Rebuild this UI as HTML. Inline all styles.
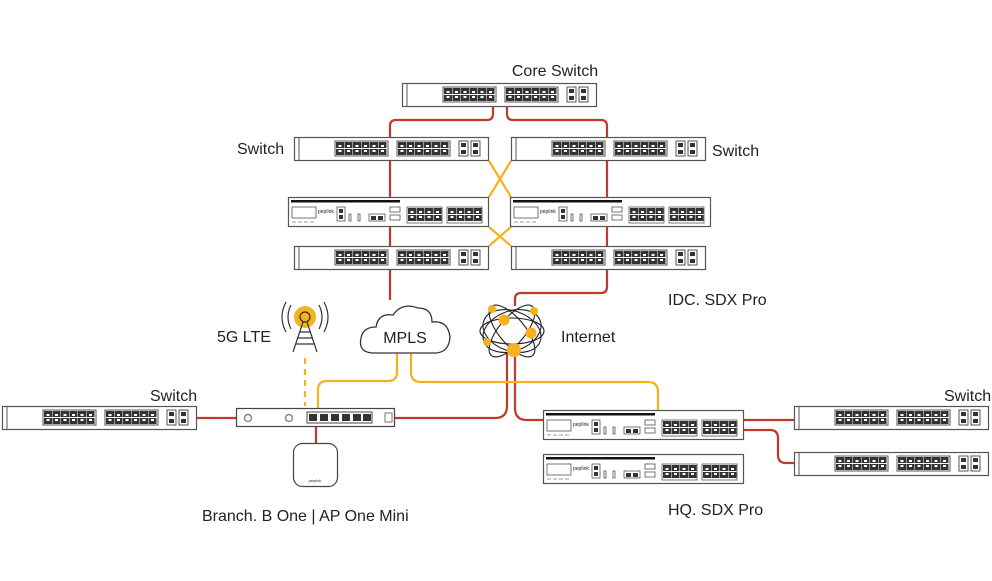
<!DOCTYPE html>
<html><head><meta charset="utf-8"><style>
html,body{margin:0;padding:0;background:#fff}
svg{display:block}
text{font-family:"Liberation Sans",sans-serif;fill:#222}
</style></head><body>
<svg width="992" height="581" viewBox="0 0 992 581" xmlns="http://www.w3.org/2000/svg">
<defs>
<g id="pg">
<rect x="0" y="0" width="8" height="6" fill="#333"/><rect x="0" y="7" width="8" height="6" fill="#333"/>
<rect x="2.5" y="3" width="3" height="2" fill="#fff"/><rect x="2.5" y="8" width="3" height="2" fill="#fff"/>
</g>
<g id="sw">
<rect x="0.5" y="0.5" width="194" height="23" fill="#fff" stroke="#555" stroke-width="1.2"/>
<line x1="5" y1="1" x2="5" y2="23" stroke="#555"/>
<rect x="41" y="4" width="53" height="15" fill="#fff" stroke="#555"/>
<use href="#pg" x="42" y="5"/><use href="#pg" x="50.5" y="5"/><use href="#pg" x="59" y="5"/><use href="#pg" x="67.5" y="5"/><use href="#pg" x="76" y="5"/><use href="#pg" x="84.5" y="5"/>
<rect x="103" y="4" width="53" height="15" fill="#fff" stroke="#555"/>
<use href="#pg" x="104" y="5"/><use href="#pg" x="112.5" y="5"/><use href="#pg" x="121" y="5"/><use href="#pg" x="129.5" y="5"/><use href="#pg" x="138" y="5"/><use href="#pg" x="146.5" y="5"/>
<rect x="165" y="4" width="9" height="15" fill="#fff" stroke="#555"/><rect x="167" y="6" width="5" height="4" fill="#333"/><rect x="167" y="13" width="5" height="4" fill="#333"/>
<rect x="177" y="4" width="9" height="15" fill="#fff" stroke="#555"/><rect x="179" y="6" width="5" height="4" fill="#333"/><rect x="179" y="13" width="5" height="4" fill="#333"/>
</g>
<g id="sdx">
<rect x="0.5" y="0.5" width="200" height="29" fill="#fff" stroke="#555" stroke-width="1.2"/>
<rect x="3" y="3" width="109" height="2.5" fill="#111"/>
<rect x="4" y="10" width="24" height="11" fill="#fff" stroke="#555" stroke-width="0.8"/>
<line x1="4" y1="25" x2="28" y2="25" stroke="#777" stroke-dasharray="4,2" stroke-width="0.8"/>
<text x="30" y="16" font-size="5" fill="#333">peplink</text>
<rect x="49" y="10" width="8" height="14" fill="#fff" stroke="#555" stroke-width="0.8"/><rect x="51" y="12" width="4" height="4" fill="#333"/><rect x="51" y="18" width="4" height="4" fill="#333"/>
<rect x="61" y="17" width="2" height="7" fill="#fff" stroke="#555" stroke-width="0.8"/><rect x="70" y="17" width="2" height="7" fill="#fff" stroke="#555" stroke-width="0.8"/>
<rect x="81" y="17" width="16" height="7" fill="#fff" stroke="#555" stroke-width="0.8"/><rect x="83" y="19" width="5" height="4" fill="#333"/><rect x="90" y="19" width="5" height="4" fill="#333"/>
<rect x="102" y="10" width="10" height="5" fill="#fff" stroke="#555" stroke-width="0.8"/><rect x="102" y="18" width="10" height="5" fill="#fff" stroke="#555" stroke-width="0.8"/>
<rect x="119" y="10" width="35" height="16" fill="#fff" stroke="#555" stroke-width="0.8"/>
<use href="#pg" x="120" y="11"/><use href="#pg" x="128.5" y="11"/><use href="#pg" x="137" y="11"/><use href="#pg" x="145.5" y="11"/>
<rect x="159" y="10" width="35" height="16" fill="#fff" stroke="#555" stroke-width="0.8"/>
<use href="#pg" x="160" y="11"/><use href="#pg" x="168.5" y="11"/><use href="#pg" x="177" y="11"/><use href="#pg" x="185.5" y="11"/>
</g>
</defs>

<g fill="none" stroke="#c0392b" stroke-width="2.2">
<path d="M493 107 V114 Q493 120 487 120 H396 Q390 120 390 126 V300"/>
<path d="M507 107 V114 Q507 120 513 120 H601 Q607 120 607 126 V287 Q607 293 601 293 H521 Q515 293 515 299 V306"/>
<path d="M507 352 V406 Q507 418 495 418 H395"/>
<path d="M515 352 V408 Q515 420 527 420 H543"/>
<path d="M236 418 H196"/>
<path d="M316 427 V443"/>
<path d="M744 420 H794"/>
<path d="M744 430 H770 Q778 430 778 438 V455 Q778 463 786 463 H794"/>
</g>
<g fill="none" stroke="#f5b21d" stroke-width="2.2">
<path d="M489 161 L511 197 M511 161 L489 197"/>
<path d="M489 227 L511 246 M511 227 L489 246"/>
<path d="M397 353 V372 Q397 381 388 381 H327 Q318 381 318 390 V408"/>
<path d="M411 353 V372 Q411 382 421 382 H648 Q658 382 658 392 V410"/>
<path d="M305 358 V406" stroke-dasharray="6,5"/>
</g>

<use href="#sw" x="402" y="83"/>
<use href="#sw" x="294" y="137"/>
<use href="#sw" x="511" y="137"/>
<use href="#sdx" x="288" y="197"/>
<use href="#sdx" x="510" y="197"/>
<use href="#sw" x="294" y="246"/>
<use href="#sw" x="511" y="246"/>
<use href="#sw" x="2" y="406"/>
<use href="#sw" x="794" y="406"/>
<use href="#sw" x="794" y="452"/>
<use href="#sdx" x="543" y="410"/>
<use href="#sdx" x="543" y="454"/>

<path d="M372 353 Q358 352 361 338 Q363 327 376 327 Q378 313 393 315 Q402 302 418 308 Q432 308 432 322 Q448 320 450 337 Q449 352 436 353 Z" fill="#fff" stroke="#333" stroke-width="1.3"/>
<text x="405" y="343" font-size="16" text-anchor="middle">MPLS</text>

<g fill="none" stroke="#222" stroke-width="1.1">
<ellipse cx="512" cy="331" rx="32" ry="13"/>
<ellipse cx="512" cy="331" rx="32" ry="13" transform="rotate(50 512 331)"/>
<ellipse cx="512" cy="331" rx="32" ry="13" transform="rotate(-50 512 331)"/>
<ellipse cx="512" cy="331" rx="30" ry="20" transform="rotate(20 512 331)"/>
<ellipse cx="512" cy="331" rx="30" ry="20" transform="rotate(-20 512 331)"/>
</g>
<g fill="#f5b21d">
<circle cx="492" cy="309" r="4"/><circle cx="504" cy="320" r="5.5"/><circle cx="534" cy="311" r="4"/>
<circle cx="531" cy="333" r="5.5"/><circle cx="487" cy="342" r="4"/><circle cx="514" cy="350" r="7"/>
</g>

<circle cx="305" cy="317" r="11" fill="#f5b21d"/>
<circle cx="305" cy="317" r="5" fill="none" stroke="#333" stroke-width="1.2"/>
<path d="M291 305 Q285 317 291 329 M319 305 Q325 317 319 329 M286 302 Q278 317 286 332 M324 302 Q332 317 324 332" fill="none" stroke="#333" stroke-width="1.2"/>
<path d="M303 322 L293 352 M307 322 L317 352 M300 332 H310 M298 338 H312 M296 344 H314" fill="none" stroke="#333" stroke-width="1.2"/>

<rect x="236.5" y="408.5" width="158" height="18" fill="#fff" stroke="#444" stroke-width="1.2"/>
<circle cx="248" cy="418" r="3.5" fill="none" stroke="#888" stroke-width="1.5"/>
<circle cx="289" cy="418" r="3.5" fill="none" stroke="#888" stroke-width="1.5"/>
<rect x="307" y="412" width="65" height="11" fill="#fff" stroke="#444"/>
<g fill="#333"><rect x="309" y="414" width="8" height="7"/><rect x="320" y="414" width="8" height="7"/><rect x="331" y="414" width="8" height="7"/><rect x="342" y="414" width="8" height="7"/><rect x="353" y="414" width="8" height="7"/><rect x="363" y="414" width="8" height="7"/></g>
<rect x="385" y="413" width="7" height="9" fill="none" stroke="#555" stroke-width="0.8"/>
<rect x="293.5" y="443.5" width="44" height="43" rx="9" fill="#fff" stroke="#444" stroke-width="1.2"/>
<text x="315" y="482" font-size="4" text-anchor="middle">peplink</text>

<text x="555" y="76" font-size="16" text-anchor="middle">Core Switch</text>
<text x="237" y="154" font-size="16">Switch</text>
<text x="712" y="156" font-size="16">Switch</text>
<text x="668" y="305" font-size="16">IDC. SDX Pro</text>
<text x="217" y="342" font-size="16">5G LTE</text>
<text x="561" y="342" font-size="16">Internet</text>
<text x="150" y="401" font-size="16">Switch</text>
<text x="944" y="401" font-size="16">Switch</text>
<text x="202" y="521" font-size="16">Branch. B One | AP One Mini</text>
<text x="668" y="515" font-size="16">HQ. SDX Pro</text>
</svg>
</body></html>
